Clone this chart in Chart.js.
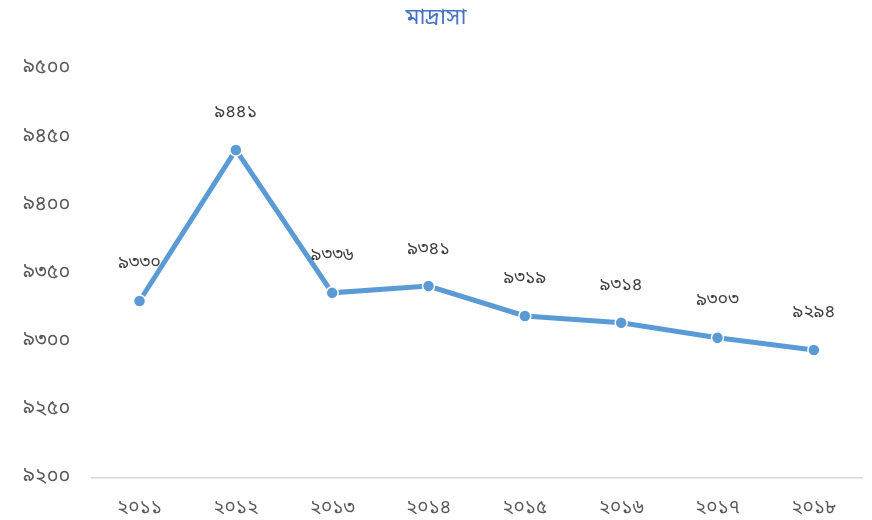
<!DOCTYPE html>
<html>
<head>
<meta charset="utf-8">
<script src="https://cdn.jsdelivr.net/npm/chart.js@4"></script>
<style>
  html, body { margin: 0; padding: 0; background: #fff; }
  #wrap { width: 872px; height: 520px; }
</style>
</head>
<body>
<div id="wrap"><canvas id="madrasaChart"></canvas></div>
<script>
const years = ['২০১১', '২০১২', '২০১৩', '২০১৪', '২০১৫', '২০১৬', '২০১৭', '২০১৮'];
const students = [9330, 9441, 9336, 9341, 9319, 9314, 9303, 9294];
const bnDigits = ['০', '১', '২', '৩', '৪', '৫', '৬', '৭', '৮', '৯'];

const toBangla = n => String(n).replace(/\d/g, d => bnDigits[d]);
const bnFont = "'Noto Sans Bengali', 'Noto Sans', 'DejaVu Sans', sans-serif";

// draws the value above each point
const pointLabels = {
    id: 'pointLabels',
    afterDatasetsDraw(chart) {
        const ctx = chart.ctx;
        const meta = chart.getDatasetMeta(0);
        ctx.save();
        ctx.font = '18px ' + bnFont;
        ctx.fillStyle = '#404040';
        ctx.textAlign = 'center';
        ctx.textBaseline = 'middle';
        meta.data.forEach((pt, i) => {
            ctx.fillText(toBangla(students[i]), pt.x, pt.y - 36);
        });
        ctx.restore();
    }
};

new Chart(document.getElementById('madrasaChart'), {
    type: 'line',
    data: {
        labels: years,
        datasets: [{
            label: 'মাদ্রাসা',
            data: students,
            borderColor: '#5b9bd5',
            borderWidth: 5,
            pointRadius: 6,
            pointBackgroundColor: '#5b9bd5',
            pointBorderColor: '#ffffff',
            pointBorderWidth: 1.5,
            tension: 0
        }]
    },
    options: {
        responsive: true,
        maintainAspectRatio: false,
        animation: false,
        layout: { padding: { left: 10, right: 10, top: 0, bottom: -21 } },
        plugins: {
            legend: { display: false },
            tooltip: { enabled: false },
            title: {
                display: true,
                text: 'মাদ্রাসা',
                color: '#4472c4',
                font: { family: bnFont, size: 23, weight: 'normal' },
                padding: { top: 6, bottom: 36 }
            }
        },
        scales: {
            x: {
                offset: true,
                grid: { display: false, drawTicks: false },
                border: { color: '#d9d9d9', width: 1.5 },
                ticks: { color: '#595959', font: { family: bnFont, size: 19, lineHeight: 1 }, padding: 22 }
            },
            y: {
                min: 9200,
                max: 9500,
                grid: { display: false },
                border: { display: false },
                ticks: {
                    stepSize: 50,
                    color: '#595959',
                    padding: 13,
                    font: { family: bnFont, size: 20 },
                    callback: v => toBangla(v)
                }
            }
        }
    },
    plugins: [pointLabels]
});
</script>
</body>
</html>
